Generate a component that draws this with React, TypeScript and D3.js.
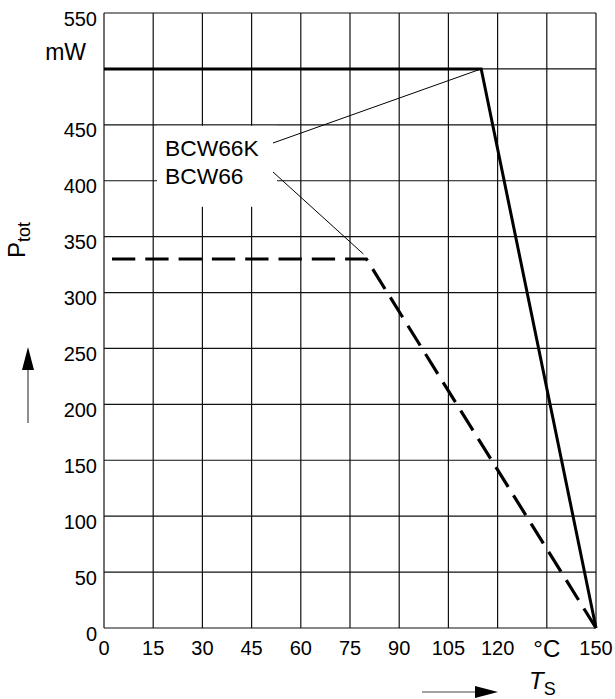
import React from "react";
import * as d3 from "d3";

const xTicks = [0, 15, 30, 45, 60, 75, 90, 105, 120, 135, 150];
const xTickLabels = ["0", "15", "30", "45", "60", "75", "90", "105", "120", "°C", "150"];
const yTicks = [0, 50, 100, 150, 200, 250, 300, 350, 400, 450, 500, 550];
const yTickLabels = ["0", "50", "100", "150", "200", "250", "300", "350", "400", "450", "mW", "550"];

const bcw66kT = [0, 115, 150];
const bcw66kP = [500, 500, 0];
const bcw66T = [0, 80, 150];
const bcw66P = [330, 330, 0];

const W = 615;
const H = 699;
const FONT = "'Liberation Sans', Arial, sans-serif";

export default function App() {
  const x = d3.scaleLinear().domain([0, 150]).range([104, 596]);
  const y = d3.scaleLinear().domain([0, 550]).range([628, 13]);
  const line = d3
    .line<[number, number]>()
    .x((d) => x(d[0]))
    .y((d) => y(d[1]));
  const solid = line(bcw66kT.map((t, i) => [t, bcw66kP[i]] as [number, number])) || "";
  const dashed = line(bcw66T.map((t, i) => [t, bcw66P[i]] as [number, number])) || "";

  const kneeK: [number, number] = [x(115), y(500)];
  const knee6: [number, number] = [x(80), y(330)];

  return (
    <svg
      width={W}
      height={H}
      style={{ position: "absolute", left: 0, top: 0, background: "#fff" }}
      fontFamily={FONT}
    >
      <rect x={0} y={0} width={W} height={H} fill="#fff" />
      {/* grid */}
      {xTicks.map((t) => (
        <line key={"gx" + t} x1={x(t)} x2={x(t)} y1={y(0)} y2={y(550)} stroke="#111" strokeWidth={1.2} />
      ))}
      {yTicks.map((t) => (
        <line key={"gy" + t} x1={x(0)} x2={x(150)} y1={y(t)} y2={y(t)} stroke="#111" strokeWidth={1.2} />
      ))}
      {/* white label box */}
      <rect x={157} y={y(450) + 1} width={120} height={81} fill="#fff" />
      {/* y tick labels */}
      {yTicks.map((t, i) =>
        yTickLabels[i] === "mW" ? (
          <text key={"yl" + t} x={86} y={y(t) - 9} textAnchor="end" fontSize={23}>
            mW
          </text>
        ) : (
          <text key={"yl" + t} x={97} y={y(t) + 12.5} textAnchor="end" fontSize={20}>
            {yTickLabels[i]}
          </text>
        )
      )}
      {/* x tick labels */}
      {xTicks.map((t, i) => (
        <text
          key={"xl" + t}
          x={x(t)}
          y={xTickLabels[i] === "°C" ? 657 : 655}
          textAnchor="middle"
          fontSize={xTickLabels[i] === "°C" ? 24 : 20}
        >
          {xTickLabels[i]}
        </text>
      ))}
      {/* leader lines */}
      <line x1={273} y1={143} x2={kneeK[0]} y2={kneeK[1]} stroke="#000" strokeWidth={1} />
      <line x1={273} y1={172} x2={knee6[0] - 3} y2={knee6[1] - 5} stroke="#000" strokeWidth={1} />
      {/* curves */}
      <path d={solid} fill="none" stroke="#000" strokeWidth={3} strokeLinejoin="miter" />
      <path
        d={dashed}
        fill="none"
        stroke="#000"
        strokeWidth={3.2}
        strokeDasharray="23.3 10"
        strokeDashoffset={25.3}
      />
      {/* series labels */}
      <text x={165} y={156} fontSize={22.8}>BCW66K</text>
      <text x={165} y={184} fontSize={22.8}>BCW66</text>
      {/* y axis title */}
      <g transform="translate(25,258) rotate(-90)">
        <text x={0} y={0} fontSize={24}>
          P<tspan fontSize={18} dy={5}>tot</tspan>
        </text>
      </g>
      <line x1={28} y1={423} x2={28} y2={365} stroke="#444" strokeWidth={1.2} />
      <path d="M28,347 L34,370 L22,370 Z" fill="#000" />
      {/* x axis title */}
      <line x1={422} y1={692} x2={478} y2={692} stroke="#444" strokeWidth={1.2} />
      <path d="M498,692 L475,686 L475,698 Z" fill="#000" />
      <text x={529} y={689} fontSize={24}>
        <tspan fontStyle="italic">T</tspan>
        <tspan fontSize={18} dy={6}>S</tspan>
      </text>
    </svg>
  );
}
